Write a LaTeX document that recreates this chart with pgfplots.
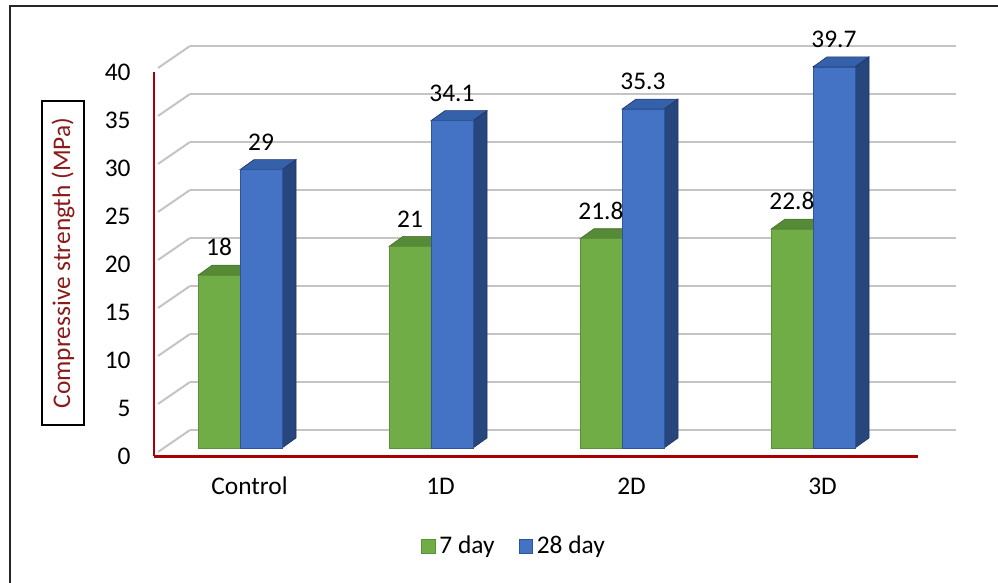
\documentclass[border=0pt]{standalone}
\usepackage{pgfplots}
\pgfplotsset{compat=1.18}
\usepackage{pgfplotstable}
\usepackage{fontspec}
\setmainfont{Carlito}
\definecolor{gfront}{HTML}{70AD47}
\definecolor{gtop}{HTML}{578A37}
\definecolor{gside}{HTML}{456E2B}
\definecolor{gedge}{HTML}{5B9239}
\definecolor{bfront}{HTML}{4472C4}
\definecolor{btop}{HTML}{3560AA}
\definecolor{bside}{HTML}{28467E}
\definecolor{bedge}{HTML}{2F5597}
\definecolor{axred}{HTML}{A80000}
\definecolor{labred}{HTML}{8B1A1A}
\definecolor{gridc}{HTML}{C4C4C4}

\pgfplotstableread{
cat seven twentyeight
0 18 29
1 21 34.1
2 21.8 35.3
3 22.8 39.7
}\datatable

\pgfplotsset{
  sqlegend/.style={legend image code/.code={\draw[##1] (0pt,-3.6pt) rectangle (6.8pt,3.2pt);}},
}

\begin{document}
\begin{tikzpicture}[font=\fontsize{12.7}{15}\selectfont]
\useasboundingbox (0,0) rectangle (499pt,291.5pt);
\draw[line width=1.1pt, black!85] (5pt,0) -- (5pt,288.5pt) -- (499pt,288.5pt);

% back wall grid
\begin{axis}[at={(95pt,76.5pt)}, anchor=south west, x=95.5pt, y=4.8pt,
  xmin=0, xmax=4.01, ymin=0, ymax=40,
  axis line style={draw=none}, xtick=\empty, ytick={0,5,...,40}, yticklabels={},
  major tick length=0pt, tick style={draw=none},
  ymajorgrids, grid style={gridc, line width=1pt}]
\end{axis}
\foreach \k in {0,...,8}{
  \draw[gridc, line width=1pt] (79pt,{65.5pt+\k*24pt}) -- (95pt,{76.5pt+\k*24pt});
}

% front axis (red lines, labels)
\begin{axis}[at={(77pt,63.25pt)}, anchor=south west, x=95.5pt, y=4.8pt,
  xmin=-0.5, xmax=3.5, ymin=0, ymax=40,
  axis x line*=bottom, axis y line*=left,
  axis line style={axred, line width=1.3pt, -},
  xtick={0,1,2,3}, xticklabels={Control,1D,2D,3D},
  ytick={0,5,...,40}, major tick length=0pt, tick style={draw=none},
  /pgf/number format/assume math mode=true,
  yticklabel style={anchor=east, inner sep=0pt, xshift=-11.5pt},
  xticklabel style={anchor=base, inner sep=0pt, yshift=-19pt},
  ylabel={Compressive strength (MPa)},
  every axis y label/.style={at={(axis description cs:-0.1191,0.504)}, rotate=90,
    anchor=center, draw=black, line width=0.6pt, text=labred,
    minimum width=162pt, minimum height=21pt, inner sep=0pt}]
\end{axis}

% bar depth (top and side faces), drawn at each data point
\begin{axis}[at={(72.25pt,67.5pt)}, anchor=south west, x=95.5pt, y=4.8pt,
  xmin=-0.5, xmax=3.5, ymin=0, ymax=40, hide axis, clip=false]
\addplot[scatter, only marks, mark=*, mark size=0pt, mark options={line width=0pt},
  visualization depends on={rawy \as \hv},
  scatter/@pre marker code/.code={%
    \fill[gside] (0pt,0pt) -- (7pt,5pt) -- (7pt,{5pt-\hv*4.8pt}) -- (0pt,{-\hv*4.8pt}) -- cycle;
    \filldraw[fill=gtop, draw=gtop!80!black, line width=0.3pt] (-21pt,0pt) -- (0pt,0pt) -- (7pt,5pt) -- (-14pt,5pt) -- cycle;
  },
  scatter/@post marker code/.code={}]
  table[x=cat,y=seven]{\datatable};
\addplot[scatter, only marks, mark=*, mark size=0pt, mark options={line width=0pt},
  visualization depends on={rawy \as \hv},
  scatter/@pre marker code/.code={%
    \filldraw[fill=bside, draw=bside!75!black, line width=0.3pt] (21pt,0pt) -- (28pt,5pt) -- (28pt,{5pt-\hv*4.8pt}) -- (21pt,{-\hv*4.8pt}) -- cycle;
    \filldraw[fill=btop, draw=bside!75!black, line width=0.3pt] (0pt,0pt) -- (21pt,0pt) -- (28pt,5pt) -- (7pt,5pt) -- cycle;
  },
  scatter/@post marker code/.code={}]
  table[x=cat,y=twentyeight]{\datatable};
\end{axis}

% bar fronts
\begin{axis}[at={(72.25pt,67.5pt)}, anchor=south west, x=95.5pt, y=4.8pt,
  xmin=-0.5, xmax=3.5, ymin=0, ymax=40, hide axis, clip=false,
  ybar, bar width=21pt,
  nodes near coords,
  /pgf/number format/assume math mode=true,
  every node near coord/.append style={anchor=south, inner sep=0pt, yshift=9.5pt, text=black},
  legend style={at={(0.485,-0.255)}, anchor=center, legend columns=2, draw=none, fill=none,
    /tikz/every even column/.append style={column sep=10pt}},
  ]
\addplot[fill=gfront, draw=gedge, line width=0.3pt, bar shift=-10.5pt, sqlegend] table[x=cat,y=seven]{\datatable};
\addlegendentry{7 day}
\addplot[fill=bfront, draw=bedge, line width=0.3pt, bar shift=10.5pt, sqlegend] table[x=cat,y=twentyeight]{\datatable};
\addlegendentry{28 day}
\end{axis}
\end{tikzpicture}
\end{document}
